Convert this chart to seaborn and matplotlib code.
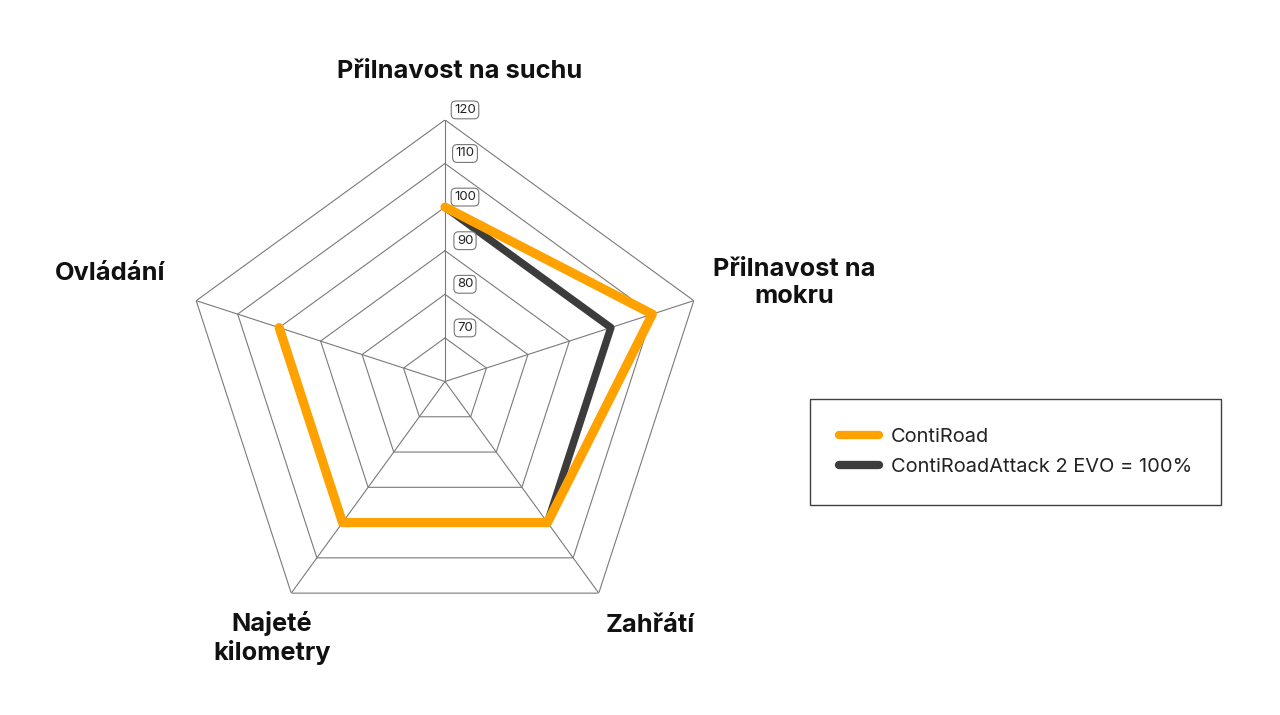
import numpy as np
import pandas as pd
import matplotlib
matplotlib.use("Agg")
import matplotlib.pyplot as plt
from matplotlib.lines import Line2D
import seaborn as sns

categories = ["Přilnavost na suchu", "Přilnavost na\nmokru", "Zahřátí", "Najeté\nkilometry", "Ovládání"]
contiroad = [100, 110, 100, 100, 100]
attack = [100, 100, 100, 100, 100]
ring_values = [70, 80, 90, 100, 110, 120]
series_names = ["ContiRoad", "ContiRoadAttack 2 EVO = 100%"]

sns.set_theme(style="white")
plt.rcParams["font.family"] = ["Inter", "DejaVu Sans"]

W, H = 1280, 715
fig = plt.figure(figsize=(W / 100, H / 100), dpi=100)
cx, cy, R = 445, 333.5, 261.6
ax = fig.add_axes([(cx - R) / W, (cy - R) / H, 2 * R / W, 2 * R / H], projection="polar")
ax.set_theta_zero_location("N")
ax.set_theta_direction(-1)
ax.set_ylim(60, 120)
ax.grid(False)
ax.set_xticks([])
ax.set_yticks([])
ax.spines["polar"].set_visible(False)
ax.set_facecolor("none")

n = len(categories)
angles = np.arange(n) * 2 * np.pi / n
closed = np.append(angles, angles[0])

grid_color = "#7a7a7a"
for v in ring_values:
    ax.plot(closed, [v] * (n + 1), color=grid_color, lw=0.8, zorder=1)
for a in angles:
    ax.plot([a, a], [60, 120], color=grid_color, lw=0.8, zorder=1)

df = pd.DataFrame({
    "theta": np.concatenate([closed, closed]),
    "value": np.concatenate([attack + [attack[0]], contiroad + [contiroad[0]]]),
    "series": [series_names[1]] * (n + 1) + [series_names[0]] * (n + 1),
})
orange = "#FFA200"
dark = "#3c3c3c"
sns.lineplot(data=df[df.series == series_names[1]], x="theta", y="value", sort=False,
             color=dark, lw=5.4, ax=ax, zorder=3, legend=False, solid_joinstyle="round")
sns.lineplot(data=df[df.series == series_names[0]], x="theta", y="value", sort=False,
             color=orange, lw=6.6, ax=ax, zorder=4, legend=False, solid_joinstyle="round")
ax.set_xlabel("")
ax.set_ylabel("")
ax.set_ylim(60, 120)

for v in ring_values:
    ax.annotate(str(v), xy=(0, v), xytext=(20, 10), textcoords="offset pixels",
                ha="center", va="center", fontsize=9.5, color="#222222", zorder=6,
                bbox=dict(boxstyle="round,pad=0.22,rounding_size=0.35", fc="white", ec="#777777", lw=0.8))

label_pos = [(460, 71), (794, 283), (650, 626), (272, 638), (110, 273)]
for text, (x, y) in zip(categories, label_pos):
    fig.text(x / W, 1 - y / H, text, ha="center", va="center", fontsize=18.3,
             fontweight="bold", color="#111111", linespacing=1.2)

handles = [Line2D([0], [0], color=orange, lw=6, solid_capstyle="round"),
           Line2D([0], [0], color=dark, lw=6, solid_capstyle="round")]
leg = fig.legend(handles, series_names, loc="center left",
                 bbox_to_anchor=(810 / W, 1 - 451.5 / H), fontsize=14.4,
                 frameon=True, fancybox=False, edgecolor="#111111",
                 handlelength=2.0, handletextpad=0.6, borderpad=1.45,
                 labelspacing=0.6, borderaxespad=0)
leg.get_frame().set_linewidth(1.0)
for t in leg.get_texts():
    t.set_color("#222222")

fig.savefig("out.png", dpi=100, facecolor="white")
